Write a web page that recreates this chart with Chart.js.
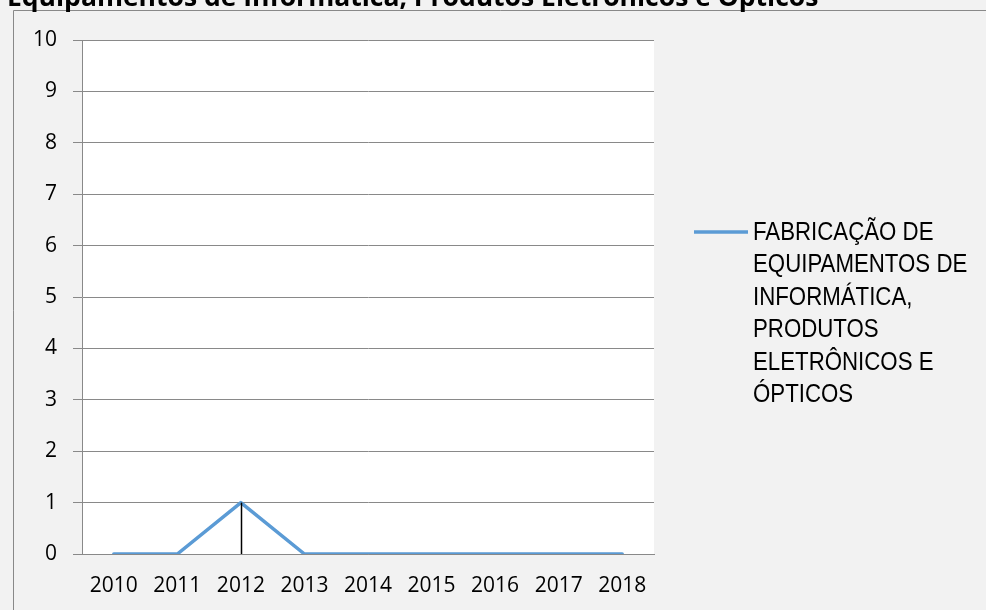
<!DOCTYPE html>
<html>
<head>
<meta charset="utf-8">
<script src="https://cdn.jsdelivr.net/npm/chart.js@4"></script>
<style>
  html, body { margin: 0; padding: 0; background: #f2f2f2; }
  #wrap { width: 986px; height: 610px; position: relative; }
</style>
</head>
<body>
<div id="wrap"><canvas id="chart"></canvas></div>
<script>
const chartTitle = "Equipamentos de Informática, Produtos Eletrônicos e Ópticos";
const years = ["2010", "2011", "2012", "2013", "2014", "2015", "2016", "2017", "2018"];
const values = [0, 0, 1, 0, 0, 0, 0, 0, 0];
const seriesLines = ["FABRICAÇÃO DE", "EQUIPAMENTOS DE", "INFORMÁTICA,", "PRODUTOS", "ELETRÔNICOS E", "ÓPTICOS"];
const yMin = 0;
const yMax = 10;
const yStep = 1;

const lineColor = "#5b9bd5";
const gridColor = "#898989";

// grey page, white plot area and the outer frame
const backdrop = {
  id: "backdrop",
  beforeDraw(chart) {
    const { ctx, chartArea: a } = chart;
    ctx.save();
    ctx.fillStyle = "#f2f2f2";
    ctx.fillRect(0, 0, chart.width, chart.height);
    ctx.fillStyle = "#ffffff";
    ctx.fillRect(a.left, a.top, a.right - a.left, a.bottom - a.top);
    ctx.strokeStyle = gridColor;
    ctx.lineWidth = 1;
    ctx.beginPath();
    ctx.moveTo(13.5, chart.height + 5);
    ctx.lineTo(13.5, 10.5);
    ctx.lineTo(chart.width + 5, 10.5);
    ctx.stroke();
    ctx.restore();
  },
};

// drop lines from each point down to the category axis
const dropLines = {
  id: "dropLines",
  afterDatasetsDraw(chart) {
    const { ctx } = chart;
    const yScale = chart.scales.y;
    const meta = chart.getDatasetMeta(0);
    ctx.save();
    ctx.strokeStyle = "#000000";
    ctx.lineWidth = 1.5;
    meta.data.forEach((pt, i) => {
      if (values[i] === yMin) return;
      const x = Math.round(pt.x) + 0.5;
      ctx.beginPath();
      ctx.moveTo(x, pt.y);
      ctx.lineTo(x, yScale.getPixelForValue(yMin));
      ctx.stroke();
    });
    ctx.restore();
  },
};

// title (runs off the top edge) and the wrapped series legend
const labels = {
  id: "labels",
  afterDraw(chart) {
    const { ctx } = chart;
    ctx.save();
    ctx.fillStyle = "#000000";
    ctx.textBaseline = "alphabetic";
    ctx.font = "bold 26.5px 'Open Sans'";
    ctx.fillText(chartTitle, 7, 6);

    ctx.strokeStyle = lineColor;
    ctx.lineWidth = 3.5;
    ctx.beginPath();
    ctx.moveTo(694, 232);
    ctx.lineTo(748, 232);
    ctx.stroke();

    // condensed look: squeeze the sans horizontally
    ctx.translate(753, 0);
    ctx.scale(0.89, 1);
    ctx.font = "25px 'Liberation Sans', Arial, sans-serif";
    seriesLines.forEach((t, i) => {
      ctx.fillText(t, 0, 240 + i * 32.4);
    });
    ctx.restore();
  },
};

new Chart(document.getElementById("chart"), {
  type: "line",
  data: {
    labels: years,
    datasets: [
      {
        label: seriesLines.join(" "),
        data: values,
        borderColor: lineColor,
        borderWidth: 3.5,
        pointRadius: 0,
        tension: 0,
        borderCapStyle: "round",
        borderJoinStyle: "round",
      },
    ],
  },
  options: {
    responsive: true,
    maintainAspectRatio: false,
    animation: false,
    layout: { padding: { left: 0, right: 332, top: 40, bottom: 0 } },
    plugins: {
      legend: { display: false },
      title: { display: false },
      tooltip: { enabled: false },
    },
    scales: {
      x: {
        offset: true,
        grid: { display: false },
        border: { display: true, color: gridColor, width: 1 },
        ticks: {
          color: "#000000",
          padding: 11,
          maxRotation: 0,
          font: { family: "'Open Sans'", size: 21 },
        },
        afterFit(scale) {
          scale.height = 56;
        },
      },
      y: {
        min: yMin,
        max: yMax,
        grid: { color: gridColor, lineWidth: 1, tickLength: 9, drawTicks: true },
        border: { display: true, color: gridColor, width: 1 },
        ticks: {
          stepSize: yStep,
          color: "#000000",
          padding: 16,
          font: { family: "'Open Sans'", size: 21 },
        },
        afterFit(scale) {
          scale.width = 82;
        },
      },
    },
  },
  plugins: [backdrop, dropLines, labels],
});
</script>
</body>
</html>
